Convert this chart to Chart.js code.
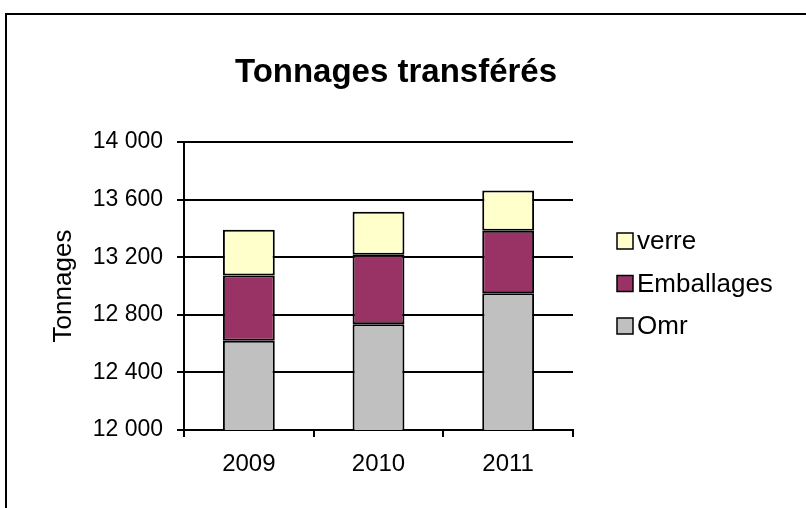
<!DOCTYPE html>
<html>
<head>
<meta charset="utf-8">
<script src="https://cdn.jsdelivr.net/npm/chart.js@4.4.0/dist/chart.umd.min.js"></script>
<style>
  html, body { margin: 0; padding: 0; background: #fff; }
</style>
</head>
<body>
<canvas id="myChart" width="806" height="508"></canvas>
<script>
const graph = document.querySelector("#myChart");

// Données (tonnes)
const annees = ["2009", "2010", "2011"];
const omr = [12620, 12735, 12950];
const emballages = [453, 482, 433];
const verre = [317, 299, 281];
const yMin = 12000;
const yMax = 14000;
const yPas = 400;
const titre = "Tonnages transférés";

const police = "'Liberation Sans', Arial, sans-serif";

// séparateur de milliers avec un espace simple
const formatTonnes = (v) => String(v).replace(/\B(?=(\d{3})+(?!\d))/g, " ");

// cadre, titre et légende dessinés à la main (comme dans Excel)
const cadreEtLegende = {
  id: "cadreEtLegende",
  afterDraw(chart) {
    const ctx = chart.ctx;
    ctx.save();
    ctx.strokeStyle = "#000";
    ctx.lineWidth = 2;
    ctx.strokeRect(6, 14, 900, 600);

    ctx.fillStyle = "#000";
    ctx.font = `bold 33px ${police}`;
    ctx.textAlign = "center";
    ctx.textBaseline = "middle";
    ctx.fillText(titre, 396, 73);

    const items = chart.data.datasets.slice().reverse();
    ctx.font = `26px ${police}`;
    ctx.textAlign = "left";
    items.forEach((ds, i) => {
      const y = 241 + i * 42.5;
      ctx.fillStyle = ds.backgroundColor;
      ctx.fillRect(617, y - 8, 16, 16);
      ctx.lineWidth = 1.5;
      ctx.strokeStyle = "#000";
      ctx.strokeRect(617, y - 8, 16, 16);
      ctx.fillStyle = "#000";
      ctx.fillText(ds.label, 637, y + 1);
    });
    ctx.restore();
  },
};

const chart = new Chart(graph, {
  type: "bar",
  data: {
    labels: annees,
    datasets: [
      { label: "Omr", data: omr, backgroundColor: "#C0C0C0" },
      { label: "Emballages", data: emballages, backgroundColor: "#993366" },
      { label: "verre", data: verre, backgroundColor: "#FFFFCC" },
    ].map((d) => ({
      ...d,
      borderColor: "#000",
      borderWidth: 2,
      borderSkipped: false,
      categoryPercentage: 1,
      barPercentage: 0.4,
    })),
  },
  options: {
    responsive: false,
    animation: false,
    layout: { padding: { top: 142, right: 233, bottom: 0, left: 0 } },
    plugins: {
      legend: { display: false },
      title: { display: false },
      tooltip: { enabled: false },
    },
    scales: {
      x: {
        stacked: true,
        afterFit: (s) => { s.height = 78; },
        grid: {
          offset: true,
          drawOnChartArea: false,
          color: "#000",
          lineWidth: 2,
          tickLength: 7,
        },
        border: { color: "#000", width: 2 },
        ticks: {
          color: "#000",
          padding: 13,
          font: { family: police, size: 24 },
        },
      },
      y: {
        stacked: true,
        min: yMin,
        max: yMax,
        afterFit: (s) => { s.width = 184; },
        grid: { color: "#000", lineWidth: 2, tickLength: 7 },
        border: { color: "#000", width: 2 },
        ticks: {
          stepSize: yPas,
          color: "#000",
          padding: 14,
          font: { family: police, size: 23 },
          callback: (v) => formatTonnes(v),
        },
        title: {
          display: true,
          text: "Tonnages",
          color: "#000",
          font: { family: police, size: 26 },
          padding: { top: 48 },
        },
      },
    },
  },
  plugins: [cadreEtLegende],
});
</script>
</body>
</html>
